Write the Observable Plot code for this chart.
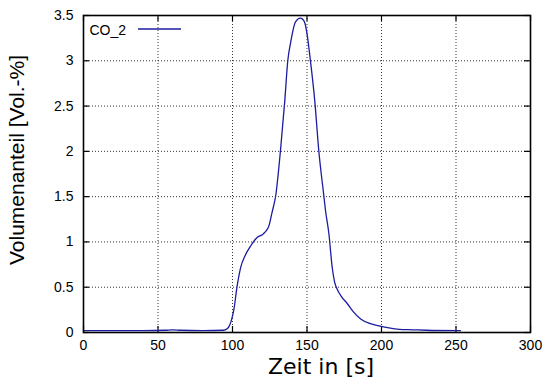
<!DOCTYPE html>
<html>
<head>
<meta charset="utf-8">
<script src="https://cdn.jsdelivr.net/npm/d3@7"></script>
<script src="https://cdn.jsdelivr.net/npm/@observablehq/plot@0.6"></script>
<style>
  html, body { margin: 0; padding: 0; background: #fff; }
  #chart svg { display: block; }
</style>
</head>
<body>
<div id="chart"></div>
<script>
// CO2 volume fraction over time
const seriesName = "CO_2";
const xTitle = "Zeit in [s]";
const yTitle = "Volumenanteil [Vol.-%]";

const time = [
  0, 20, 40, 55, 60, 65, 80, 94, 97, 99, 101, 103, 105.5, 108.5, 112, 116.5,
  120, 122, 124.5, 126.6, 129, 132.2, 135.1, 137.1, 139, 142.3, 145.5, 147,
  148.5, 150, 152.3, 155.2, 157.9, 161.3, 162.4, 164.7, 166.9, 168.5, 170.2,
  173, 177, 181, 186, 192, 199, 205, 212, 221, 230, 253
];
const co2 = [
  0.02, 0.02, 0.02, 0.025, 0.03, 0.025, 0.02, 0.025, 0.05, 0.12, 0.26, 0.5, 0.72, 0.85, 0.95, 1.05,
  1.08, 1.11, 1.18, 1.33, 1.51, 2.01, 2.56, 3.0, 3.2, 3.43, 3.47, 3.46,
  3.42, 3.30, 3.0, 2.56, 2.01, 1.51, 1.35, 1.09, 0.72, 0.56, 0.48,
  0.40, 0.32, 0.23, 0.15, 0.10, 0.07, 0.05, 0.035, 0.03, 0.025, 0.02
];

const xTicks = [0, 50, 100, 150, 200, 250, 300];
const xTickLabels = ["0", "50", "100", "150", "200", "250", "300"];
const yTicks = [0, 0.5, 1, 1.5, 2, 2.5, 3, 3.5];
const yTickLabels = ["0", "0.5", "1", "1.5", "2", "2.5", "3", "3.5"];

const data = time.map((t, i) => ({t, v: co2[i]}));

const W = 545, H = 385;
const mL = 83, mR = 15, mT = 15, mB = 53;
const innerW = W - mL - mR, innerH = H - mT - mB;
const tickLen = 6;
const lineColor = "#1c1ca0";
const sans = "'Liberation Sans', Arial, sans-serif";
const grid = {stroke: "#000", strokeOpacity: 0.8, strokeDasharray: "1,2", strokeWidth: 1};
const tick = {stroke: "#000", strokeWidth: 1.2};
const tickText = {fontSize: 14, fontFamily: sans, fill: "#000"};

const chart = Plot.plot({
  width: W,
  height: H,
  marginLeft: mL,
  marginRight: mR,
  marginTop: mT,
  marginBottom: mB,
  x: {domain: [0, 300], axis: null},
  y: {domain: [0, 3.5], axis: null},
  style: {fontFamily: sans, background: "#fff", color: "#000"},
  marks: [
    Plot.gridX(xTicks, grid),
    Plot.gridY(yTicks, grid),
    // inward ticks on all four sides
    Plot.tickX(xTicks, {x: d => d, insetTop: innerH - tickLen, ...tick}),
    Plot.tickX(xTicks, {x: d => d, insetBottom: innerH - tickLen, ...tick}),
    Plot.tickY(yTicks, {y: d => d, insetRight: innerW - tickLen, ...tick}),
    Plot.tickY(yTicks, {y: d => d, insetLeft: innerW - tickLen, ...tick}),
    Plot.line(data, {x: "t", y: "v", stroke: lineColor, strokeWidth: 1.3, curve: "monotone-x"}),
    Plot.frame({stroke: "#000", strokeWidth: 1.6}),
    // tick labels
    Plot.text(xTicks, {
      x: d => d, text: (d, i) => xTickLabels[i],
      frameAnchor: "bottom", textAnchor: "middle", lineAnchor: "top", dy: 8, ...tickText
    }),
    Plot.text(yTicks, {
      y: d => d, text: (d, i) => yTickLabels[i],
      frameAnchor: "left", textAnchor: "end", lineAnchor: "middle", dx: -10, ...tickText
    }),
    // axis titles
    Plot.text([xTitle], {
      text: d => d, frameAnchor: "bottom", textAnchor: "middle", lineAnchor: "middle",
      dx: 14, dy: 34,
      fontSize: 22, fontFamily: "'DejaVu Sans', sans-serif", fill: "#000"
    }),
    Plot.text([yTitle], {
      text: d => d, frameAnchor: "left", textAnchor: "middle", lineAnchor: "middle",
      rotate: -90, dx: -66, dy: -14,
      fontSize: 21, fontFamily: sans, fill: "#000"
    }),
    // legend label
    Plot.text([seriesName], {
      text: d => d, frameAnchor: "top-left", textAnchor: "start", lineAnchor: "middle",
      dx: 6, dy: 15,
      fontSize: 14, fontFamily: sans, fill: "#000"
    })
  ]
});

// legend sample line next to the series name
d3.select(chart).append("line")
  .attr("x1", mL + 55).attr("x2", mL + 98)
  .attr("y1", mT + 14).attr("y2", mT + 14)
  .attr("stroke", lineColor).attr("stroke-width", 1.3);

document.getElementById("chart").appendChild(chart);
</script>
</body>
</html>
